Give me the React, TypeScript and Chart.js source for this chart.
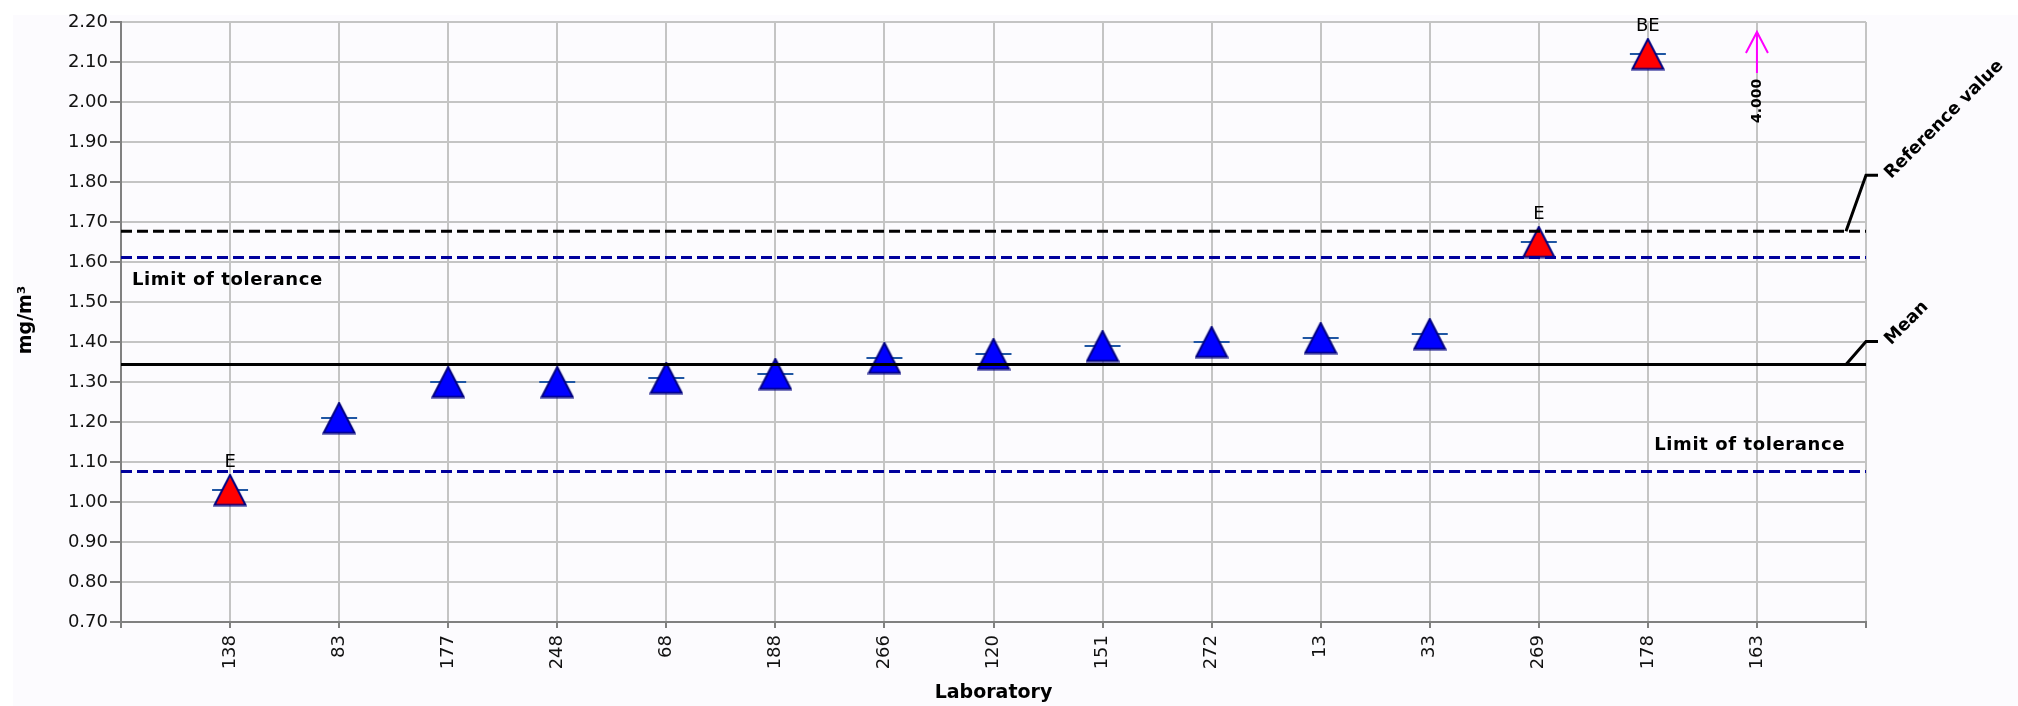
import React, { useEffect, useRef } from 'react';
import { Chart, registerables } from 'chart.js';

Chart.register(...registerables);

// ---- data ----
const laboratories = ['138', '83', '177', '248', '68', '188', '266', '120', '151', '272', '13', '33', '269', '178', '163'];
const results = [1.03, 1.21, 1.3, 1.3, 1.31, 1.32, 1.36, 1.37, 1.39, 1.4, 1.41, 1.42, 1.65, 2.12, 4.0];
const flags = ['E', '', '', '', '', '', '', '', '', '', '', '', 'E', 'BE', ''];
const meanValue = 1.344;
const referenceValue = 1.677;
const upperTolerance = 1.611;
const lowerTolerance = 1.076;
const yMin = 0.7;
const yMax = 2.2;
const yStep = 0.1;

const FONT = '"DejaVu Sans", sans-serif';

function makeTriangle(fill: string) {
  const c = document.createElement('canvas');
  c.width = 34;
  c.height = 33;
  const g = c.getContext('2d')!;
  g.beginPath();
  g.moveTo(17, 1.5);
  g.lineTo(32.5, 31.5);
  g.lineTo(1.5, 31.5);
  g.closePath();
  g.fillStyle = fill;
  g.fill();
  g.lineWidth = 2;
  g.strokeStyle = '#000080';
  g.stroke();
  return c;
}

const decorPlugin = {
  id: 'decor',
  beforeDraw(chart: any) {
    const ctx = chart.ctx;
    ctx.save();
    ctx.fillStyle = '#ffffff';
    ctx.fillRect(0, 0, chart.width, chart.height);
    ctx.fillStyle = '#fcfbfe';
    ctx.fillRect(13, 15, chart.width - 13, chart.height - 15);
    ctx.restore();
  },
  afterDraw(chart: any) {
    const ctx = chart.ctx;
    const area = chart.chartArea;
    const xs = chart.scales.x;
    const ys = chart.scales.y;
    ctx.save();
    ctx.fillStyle = '#000000';

    // flags above points
    ctx.font = `18px ${FONT}`;
    ctx.textAlign = 'center';
    ctx.textBaseline = 'middle';
    results.forEach((v, i) => {
      if (!flags[i] || v > yMax) return;
      const px = xs.getPixelForValue(i + 1);
      const py = ys.getPixelForValue(v);
      ctx.fillText(flags[i], px, py - 28);
    });

    // off-scale arrows
    results.forEach((v, i) => {
      if (v <= yMax) return;
      const px = xs.getPixelForValue(i + 1);
      const tip = area.top + 10;
      ctx.strokeStyle = '#ff00ff';
      ctx.lineWidth = 2;
      ctx.beginPath();
      ctx.moveTo(px, tip);
      ctx.lineTo(px, tip + 41);
      ctx.moveTo(px - 11, tip + 21);
      ctx.lineTo(px, tip);
      ctx.lineTo(px + 11, tip + 21);
      ctx.stroke();
      ctx.save();
      ctx.translate(px, tip + 91);
      ctx.rotate(-Math.PI / 2);
      ctx.font = `bold 14px ${FONT}`;
      ctx.textAlign = 'left';
      ctx.textBaseline = 'middle';
      ctx.fillText(v.toFixed(3), 0, 0);
      ctx.restore();
    });

    // right side bracket labels
    const bracket = (val: number, rise: number, text: string) => {
      const ly = ys.getPixelForValue(val);
      const ky = ly - rise;
      ctx.strokeStyle = '#000000';
      ctx.lineWidth = 3;
      ctx.beginPath();
      ctx.moveTo(area.right - 20, ly);
      ctx.lineTo(area.right, ky);
      ctx.lineTo(area.right + 12, ky);
      ctx.stroke();
      ctx.save();
      ctx.translate(area.right + 25, ky + 4);
      ctx.rotate(-Math.PI / 4);
      ctx.font = `bold 17.5px ${FONT}`;
      ctx.textAlign = 'left';
      ctx.textBaseline = 'alphabetic';
      ctx.fillText(text, 0, 0);
      ctx.restore();
    };
    bracket(referenceValue, 56, 'Reference value');
    bracket(meanValue, 23, 'Mean');

    // tolerance labels
    ctx.font = `bold 18px ${FONT}`;
    ctx.letterSpacing = '0.6px';
    ctx.textBaseline = 'middle';
    ctx.textAlign = 'left';
    ctx.fillText('Limit of tolerance', area.left + 11, ys.getPixelForValue(upperTolerance) + 23);
    ctx.textAlign = 'right';
    ctx.fillText('Limit of tolerance', area.right - 21, ys.getPixelForValue(lowerTolerance) - 26);
    ctx.letterSpacing = '0px';

    // axis titles
    ctx.font = `bold 19px ${FONT}`;
    ctx.textAlign = 'center';
    ctx.textBaseline = 'middle';
    ctx.fillText('Laboratory', (area.left + area.right) / 2, 693);
    ctx.save();
    ctx.translate(26, (area.top + area.bottom) / 2 - 2);
    ctx.rotate(-Math.PI / 2);
    ctx.fillText('mg/m³', 0, 0);
    ctx.restore();

    ctx.restore();
  },
};

export default function App() {
  const ref = useRef<HTMLCanvasElement | null>(null);

  useEffect(() => {
    if (!ref.current) return;
    const blueTri = makeTriangle('#0000ff');
    const redTri = makeTriangle('#ff0000');
    const n = laboratories.length;
    const pts = results.map((v, i) => ({ x: i + 1, y: v > yMax ? null : v }));
    const hline = (v: number) => [
      { x: 0, y: v },
      { x: n + 1, y: v },
    ];

    const chart = new Chart(ref.current, {
      type: 'scatter',
      data: {
        datasets: [
          {
            label: 'Reference value',
            type: 'line',
            data: hline(referenceValue),
            borderColor: '#000000',
            borderWidth: 3,
            borderDash: [11, 5],
            pointRadius: 0,
            order: 0,
          } as any,
          {
            label: 'Upper tolerance',
            type: 'line',
            data: hline(upperTolerance),
            borderColor: '#00009c',
            borderWidth: 3,
            borderDash: [11, 5],
            pointRadius: 0,
            order: 0,
          },
          {
            label: 'Lower tolerance',
            type: 'line',
            data: hline(lowerTolerance),
            borderColor: '#00009c',
            borderWidth: 3,
            borderDash: [11, 5],
            pointRadius: 0,
            order: 0,
          },
          {
            label: 'Mean',
            type: 'line',
            data: hline(meanValue),
            borderColor: '#000000',
            borderWidth: 3,
            pointRadius: 0,
            order: 0,
          },
          {
            label: 'Results',
            data: pts,
            pointStyle: results.map((v, i) => (flags[i] ? redTri : blueTri)),
            pointRadius: 16,
            pointHoverRadius: 16,
            showLine: false,
            order: 1,
          } as any,
          {
            label: 'Result marks',
            data: pts,
            pointStyle: 'line',
            pointRadius: 18,
            pointHoverRadius: 18,
            pointBorderColor: '#1f56a3',
            pointBorderWidth: 2,
            showLine: false,
            order: 2,
          },
        ],
      },
      options: {
        animation: false,
        responsive: false,
        events: [],
        layout: { padding: { left: 0, top: 22, right: 152, bottom: 0 } },
        plugins: { legend: { display: false }, tooltip: { enabled: false } },
        scales: {
          x: {
            type: 'linear',
            min: 0,
            max: n + 1,
            afterFit: (s: any) => {
              s.height = 84;
            },
            afterBuildTicks: (s: any) => {
              s.ticks = Array.from({ length: n + 2 }, (_, i) => ({ value: i }));
            },
            ticks: {
              autoSkip: false,
              minRotation: 90,
              maxRotation: 90,
              padding: 7,
              color: '#111111',
              font: { family: FONT, size: 18 },
              callback: (v: any) => {
                const i = Math.round(Number(v));
                return i >= 1 && i <= n ? laboratories[i - 1] : '';
              },
            },
            grid: { color: '#c4c4c4', lineWidth: 2, tickLength: 6, tickColor: '#808080', tickWidth: 2 },
            border: { color: '#808080', width: 2 },
          },
          y: {
            type: 'linear',
            min: yMin,
            max: yMax,
            afterFit: (s: any) => {
              s.width = 121;
            },
            ticks: {
              stepSize: yStep,
              padding: 2,
              color: '#111111',
              font: { family: FONT, size: 18 },
              callback: (v: any) => Number(v).toFixed(2),
            },
            grid: { color: '#c4c4c4', lineWidth: 2, tickLength: 11, tickColor: '#808080', tickWidth: 2 },
            border: { color: '#808080', width: 2 },
          },
        },
      },
      plugins: [decorPlugin],
    });
    return () => chart.destroy();
  }, []);

  return (
    <div style={{ position: 'fixed', left: 0, top: 0, width: 2018, height: 706 }}>
      <canvas ref={ref} width={2018} height={706} style={{ display: 'block', width: 2018, height: 706 }} />
    </div>
  );
}
